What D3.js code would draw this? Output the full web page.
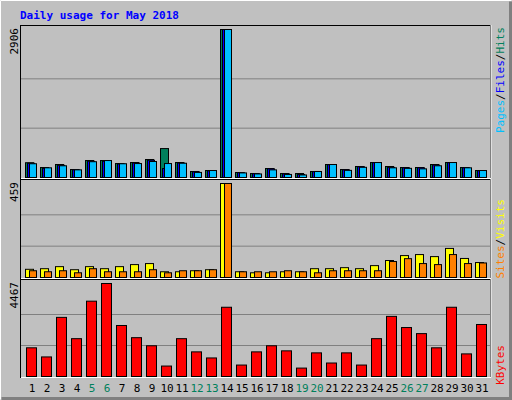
<!DOCTYPE html>
<html>
<head>
  <meta charset="utf-8">
  <title>Daily usage</title>
  <script src="https://d3js.org/d3.v7.min.js"></script>
  <style>
    body { margin: 0; }
    text { font-family: "DejaVu Sans Mono", monospace; font-size: 11px; }
  </style>
</head>
<body>
  <svg id="chart"></svg>
  <script>
    const days = d3.range(1, 32);
    const weekend = [5, 6, 12, 13, 19, 20, 26, 27];
    const hits  = [290, 196, 255, 157, 333, 333, 274, 294, 353, 568, 294, 118, 137, 2906, 98, 78, 176, 78, 78, 118, 255, 157, 216, 294, 216, 196, 196, 255, 294, 196, 137];
    const files = [280, 180, 240, 150, 320, 320, 265, 285, 340, 176, 284, 110, 130, 2906, 94, 74, 170, 70, 60, 114, 250, 150, 210, 290, 200, 190, 190, 245, 290, 190, 132];
    const pages = [270, 190, 230, 150, 310, 333, 270, 274, 314, 274, 280, 100, 137, 2906, 90, 70, 150, 60, 50, 118, 255, 140, 200, 294, 190, 180, 170, 230, 294, 190, 137];
    const visits = [40, 43, 53, 38, 53, 43, 53, 63, 68, 28, 28, 33, 38, 459, 28, 23, 23, 28, 28, 43, 43, 48, 43, 58, 83, 107, 112, 102, 142, 93, 73];
    const sites  = [33, 28, 33, 23, 43, 28, 28, 28, 38, 23, 33, 33, 38, 459, 28, 28, 28, 33, 28, 23, 33, 33, 33, 33, 78, 92, 68, 63, 112, 68, 71];
    const kbytes = [1378, 940, 2840, 1817, 3618, 4467, 2450, 1865, 1476, 502, 1817, 1183, 891, 3326, 550, 1183, 1476, 1232, 404, 1135, 648, 1135, 550, 1817, 2888, 2352, 2060, 1378, 3326, 1086, 2498];

    const W = 512, H = 400;
    const svg = d3.select("#chart").attr("width", W).attr("height", H);

    // background and bevel
    svg.append("rect").attr("width", W).attr("height", H).attr("fill", "#c0c0c0");
    svg.append("path").attr("d", `M0.5,${H - 0.5}V0.5H${W - 0.5}`).attr("stroke", "#ffffff").attr("fill", "none");
    svg.append("path").attr("d", `M1.5,${H - 1.5}H${W - 1.5}V1.5`).attr("stroke", "#808080").attr("stroke-width", 3).attr("fill", "none");

    svg.append("text").attr("x", 20).attr("y", 19)
      .attr("fill", "#0000ff").attr("font-weight", "bold").attr("font-size", 12)
      .text("Daily usage for May 2018");

    const x = d3.scaleBand().domain(days).range([24, 489]);

    const panels = [
      { top: 25, bottom: 178, base: 177, max: 2906 },
      { top: 179, bottom: 278, base: 277, max: 459 },
      { top: 279, bottom: 377, base: 376, max: 4467 }
    ];

    panels.forEach(p => {
      p.y = d3.scaleLinear().domain([0, p.max]).range([p.base, p.top + 4]);
      svg.append("rect").attr("x", 20.5).attr("y", p.top + 0.5)
        .attr("width", 470).attr("height", p.bottom - p.top)
        .attr("fill", "#c0c0c0").attr("stroke", "#000").attr("stroke-width", 1);
      svg.append("path").attr("d", `M21,${p.bottom + 0.5}H491V${p.top}`)
        .attr("stroke", "#ffffff").attr("fill", "none");
      svg.append("g")
        .attr("transform", "translate(21,0)")
        .call(d3.axisLeft(p.y).tickValues([p.max / 3, p.max * 2 / 3]).tickSize(-469).tickFormat(""))
        .call(g => g.select(".domain").remove())
        .call(g => g.selectAll("line").attr("stroke", "#808080"));
      svg.append("text")
        .attr("transform", `translate(18,${p.top + 3}) rotate(-90)`)
        .attr("text-anchor", "end").attr("fill", "#000")
        .text(p.max);
    });

    function bars(panel, data, dx, w, color) {
      svg.append("g").selectAll("rect").data(data).join("rect")
        .attr("x", (d, i) => x(days[i]) + dx + 0.5)
        .attr("y", d => panel.y(d) + 0.5)
        .attr("width", w)
        .attr("height", d => panel.base - panel.y(d))
        .attr("fill", color).attr("stroke", "#000");
    }
    bars(panels[0], hits, 1, 8, "#00805c");
    bars(panels[0], files, 3, 7, "#0000ff");
    bars(panels[0], pages, 5, 7, "#00c0ff");
    bars(panels[1], visits, 1, 8, "#ffff00");
    bars(panels[1], sites, 5, 7, "#ff8000");
    bars(panels[2], kbytes, 2, 10, "#ff0000");

    // day labels
    svg.append("g").selectAll("text").data(days).join("text")
      .attr("x", d => x(d) + x.bandwidth() / 2 + 0.5)
      .attr("y", 392).attr("text-anchor", "middle")
      .attr("fill", d => weekend.includes(d) ? "#00805c" : "#000")
      .text(d => d);

    // right-side legends
    function legend(yEnd, parts) {
      const t = svg.append("text")
        .attr("transform", `translate(504,${yEnd}) rotate(-90)`)
        .attr("text-anchor", "end");
      parts.forEach(([s, c]) => t.append("tspan").attr("fill", c).text(s));
    }
    legend(27, [["Pages", "#00c0ff"], ["/", "#000"], ["Files", "#0000ff"], ["/", "#000"], ["Hits", "#00805c"]]);
    legend(199, [["Sites", "#ff8000"], ["/", "#000"], ["Visits", "#ffff00"]]);
    legend(345, [["KBytes", "#ff0000"]]);
  </script>
</body>
</html>
